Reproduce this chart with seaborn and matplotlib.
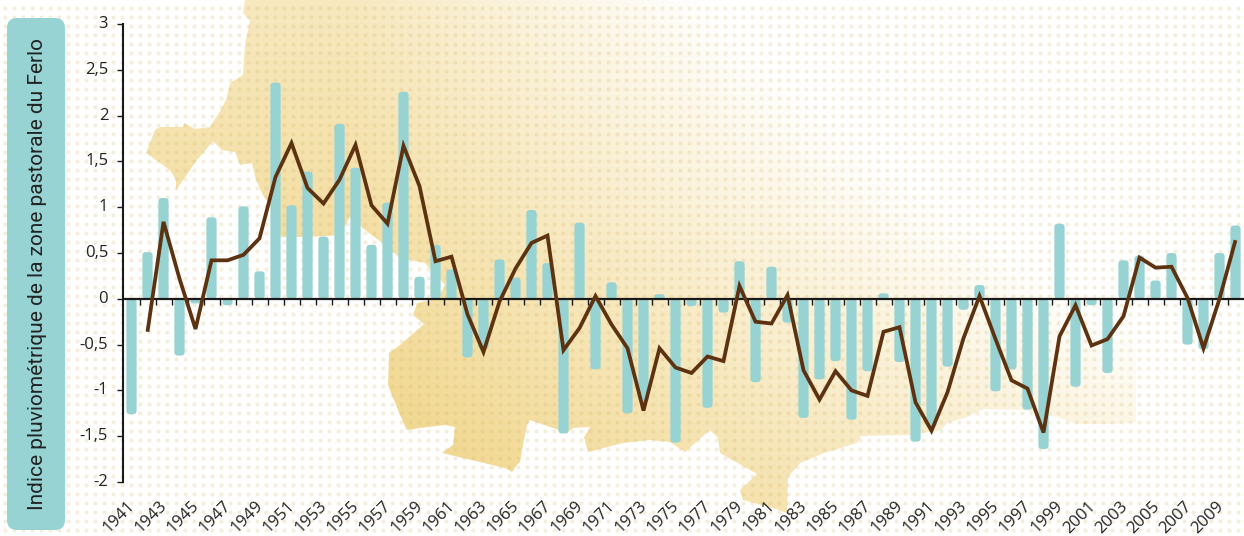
import numpy as np
import pandas as pd
import matplotlib
matplotlib.use("Agg")
import matplotlib.pyplot as plt
from matplotlib.patches import FancyBboxPatch, Polygon
from matplotlib.transforms import ScaledTranslation
import seaborn as sns

years = list(range(1941, 2011))
bar_values = [-1.26, 0.51, 1.10, -0.62, -0.05, 0.89, -0.07, 1.01, 0.30, 2.36,
              1.02, 1.39, 0.68, 1.91, 1.43, 0.59, 1.05, 2.26, 0.24, 0.59,
              0.32, -0.64, -0.55, 0.43, 0.23, 0.97, 0.39, -1.47, 0.83, -0.77,
              0.18, -1.25, -1.12, 0.05, -1.57, -0.08, -1.19, -0.15, 0.41, -0.91,
              0.35, -0.26, -1.30, -0.88, -0.68, -1.32, -0.79, 0.06, -0.69, -1.56,
              -1.40, -0.74, -0.12, 0.15, -1.01, -0.77, -1.21, -1.64, 0.82, -0.96,
              -0.07, -0.81, 0.42, 0.47, 0.20, 0.50, -0.50, -0.55, 0.50, 0.80]
line_values = [np.nan, -0.36, 0.84, 0.22, -0.33, 0.42, 0.42, 0.48, 0.66, 1.33,
               1.70, 1.21, 1.04, 1.30, 1.68, 1.02, 0.82, 1.67, 1.23, 0.41,
               0.46, -0.17, -0.58, -0.03, 0.33, 0.61, 0.69, -0.56, -0.32, 0.03,
               -0.28, -0.54, -1.22, -0.54, -0.75, -0.81, -0.63, -0.68, 0.14, -0.25,
               -0.27, 0.04, -0.78, -1.10, -0.79, -1.00, -1.06, -0.36, -0.31, -1.13,
               -1.44, -1.02, -0.43, 0.03, -0.44, -0.89, -0.98, -1.46, -0.41, -0.07,
               -0.51, -0.44, -0.19, 0.45, 0.34, 0.35, 0.01, -0.54, 0.00, 0.64]
y_ticks = [-2, -1.5, -1, -0.5, 0, 0.5, 1, 1.5, 2, 2.5, 3]
y_tick_labels = ["-2", "-1,5", "-1", "-0,5", "0", "0,5", "1", "1,5", "2", "2,5", "3"]
y_title = "Indice pluviométrique de la zone pastorale du Ferlo"

TEAL = "#98d3d3"
BROWN = "#5c3210"
INK = "#222222"
W, H = 1244, 536

sns.set_theme(style="white")
plt.rcParams["font.family"] = ["Open Sans", "DejaVu Sans"]

fig = plt.figure(figsize=(W / 100, H / 100), dpi=100, facecolor="white")

# decorative background: map silhouette with gradient, and dot screen
bg = fig.add_axes([0, 0, 1, 1], zorder=0)
bg.set_xlim(0, W)
bg.set_ylim(H, 0)
bg.axis("off")
map_outline = [(245, 0), (1244, 0), (1244, 200), (1136, 300), (1136, 422), (1117, 424), (1077, 424),
               (1057, 417), (1024, 410), (984, 409), (967, 417), (947, 423), (941, 430), (911, 435),
               (861, 436), (857, 443), (824, 453), (800, 463), (788, 477), (787, 513), (773, 508),
               (743, 500), (740, 490), (757, 474), (720, 453), (718, 438), (710, 430), (685, 452),
               (670, 442), (650, 440), (623, 443), (588, 452), (584, 437), (590, 427), (573, 428),
               (567, 433), (550, 427), (530, 420), (527, 425), (523, 445), (520, 462), (517, 465),
               (512, 472), (505, 468), (480, 462), (442, 453), (453, 445), (455, 427), (445, 425),
               (420, 428), (407, 430), (400, 415), (388, 385), (389, 353), (400, 345), (424, 324),
               (413, 315), (417, 303), (437, 299), (445, 285), (425, 263), (400, 258), (385, 245),
               (365, 230), (350, 217), (340, 235), (310, 237), (281, 237), (278, 230), (270, 205),
               (263, 195), (256, 180), (252, 163), (240, 165), (235, 152), (222, 150), (213, 141),
               (197, 160), (190, 170), (176, 190), (176, 180), (170, 170), (146, 153), (155, 130),
               (160, 127), (183, 127), (184, 123), (195, 129), (210, 127), (222, 108), (226, 100),
               (230, 83), (243, 75), (245, 45), (247, 35), (250, 20), (243, 13)]
gx, gy = np.meshgrid(np.arange(W), np.arange(H))
xs = np.maximum(gx - 350, 0)
ys = 470 - gy
strength = np.clip(1 - xs / 1100 - ys / 1000 - xs * np.maximum(ys, 0) / 800000, 0, 1)
base = np.array([240, 212, 134]) / 255
rgba = np.ones((H, W, 3)) - strength[..., None] * (1 - base)
img = bg.imshow(rgba, extent=(0, W, H, 0), aspect="auto", interpolation="bilinear", zorder=1)
shape = Polygon(map_outline, closed=True, transform=bg.transData, facecolor="none", edgecolor="none")
bg.add_patch(shape)
img.set_clip_path(shape)
dx, dy = np.meshgrid(np.arange(5, W, 9), np.arange(8, H, 9))
bg.scatter(dx.ravel(), dy.ravel(), s=9, marker="o", color="#d4b565", alpha=0.22, linewidths=0, zorder=2)
bg.set_xlim(0, W)
bg.set_ylim(H, 0)

# title panel
bg.add_patch(FancyBboxPatch((17, 28), 38, 492, boxstyle="round,pad=10,rounding_size=10",
                            facecolor=TEAL, edgecolor="none", zorder=3))
bg.text(38, 274, y_title, rotation=90, ha="center", va="center", fontsize=15, color=INK,
        family=["Liberation Sans Narrow", "Roboto"], zorder=4)

# chart
left, right, top, bottom = 123.5, 1243.5, 24, 482
ax = fig.add_axes([left / W, 1 - bottom / H, (right - left) / W, (bottom - top) / H], zorder=1)
ax.patch.set_alpha(0)
df = pd.DataFrame({"year": [str(y) for y in years], "bar": bar_values, "line": line_values,
                   "pos": np.arange(len(years))})
sns.barplot(data=df, x="year", y="bar", color=TEAL, saturation=1, width=0.64, ax=ax)
sns.lineplot(data=df.dropna(subset=["line"]), x="pos", y="line", color=BROWN, linewidth=2.7,
             estimator=None, sort=False, ax=ax, solid_joinstyle="miter", solid_capstyle="butt",
             zorder=4)
ax.set_xlim(-0.5, len(years) - 0.5)
ax.set_ylim(-2, 3)
ax.set_xlabel("")
ax.set_ylabel("")

# rounded bars built from the geometry seaborn computed
x_px = (right - left) / len(years)
y_px = (bottom - top) / 5
aspect = x_px / y_px
for rect in list(ax.patches):
    bx, by, bw, bh = rect.get_x(), rect.get_y(), rect.get_width(), rect.get_height()
    y0, h = min(by, by + bh), abs(bh)
    r = min(3.5 / x_px, 0.5 * h / aspect)
    fancy = FancyBboxPatch((bx, y0), bw, h, boxstyle=f"round,pad=0,rounding_size={r}",
                           mutation_aspect=aspect, facecolor=TEAL, edgecolor="none", zorder=1)
    rect.remove()
    ax.add_patch(fancy)

for side in ("top", "right"):
    ax.spines[side].set_visible(False)
ax.spines["left"].set_linewidth(1.5)
ax.spines["left"].set_color("#1a1a1a")
ax.spines["bottom"].set_position(("data", 0))
ax.spines["bottom"].set_linewidth(1.6)
ax.spines["bottom"].set_color("#1a1a1a")

ax.set_yticks(y_ticks, y_tick_labels)
ax.tick_params(axis="y", which="major", left=True, length=4.5, width=1, color="#1a1a1a",
               labelsize=12, labelcolor=INK, pad=6.5)
for lab in ax.get_yticklabels():
    lab.set_transform(lab.get_transform() + ScaledTranslation(0, 0.02, fig.dpi_scale_trans))

label_idx = list(range(0, len(years), 2))
ax.set_xticks(label_idx, [str(years[i]) for i in label_idx])
ax.set_xticks(np.arange(0.5, len(years) - 0.5, 1), minor=True)
ax.tick_params(axis="x", which="major", bottom=True, length=0, labelsize=12, labelcolor=INK,
               pad=143.5, rotation=45)
ax.tick_params(axis="x", which="minor", bottom=True, length=4, width=1, color="#1a1a1a")
for lab in ax.get_xticklabels():
    lab.set_ha("center")
    lab.set_transform(lab.get_transform() + ScaledTranslation(-0.12, 0, fig.dpi_scale_trans))

fig.savefig("out.png", dpi=100, facecolor="white")
